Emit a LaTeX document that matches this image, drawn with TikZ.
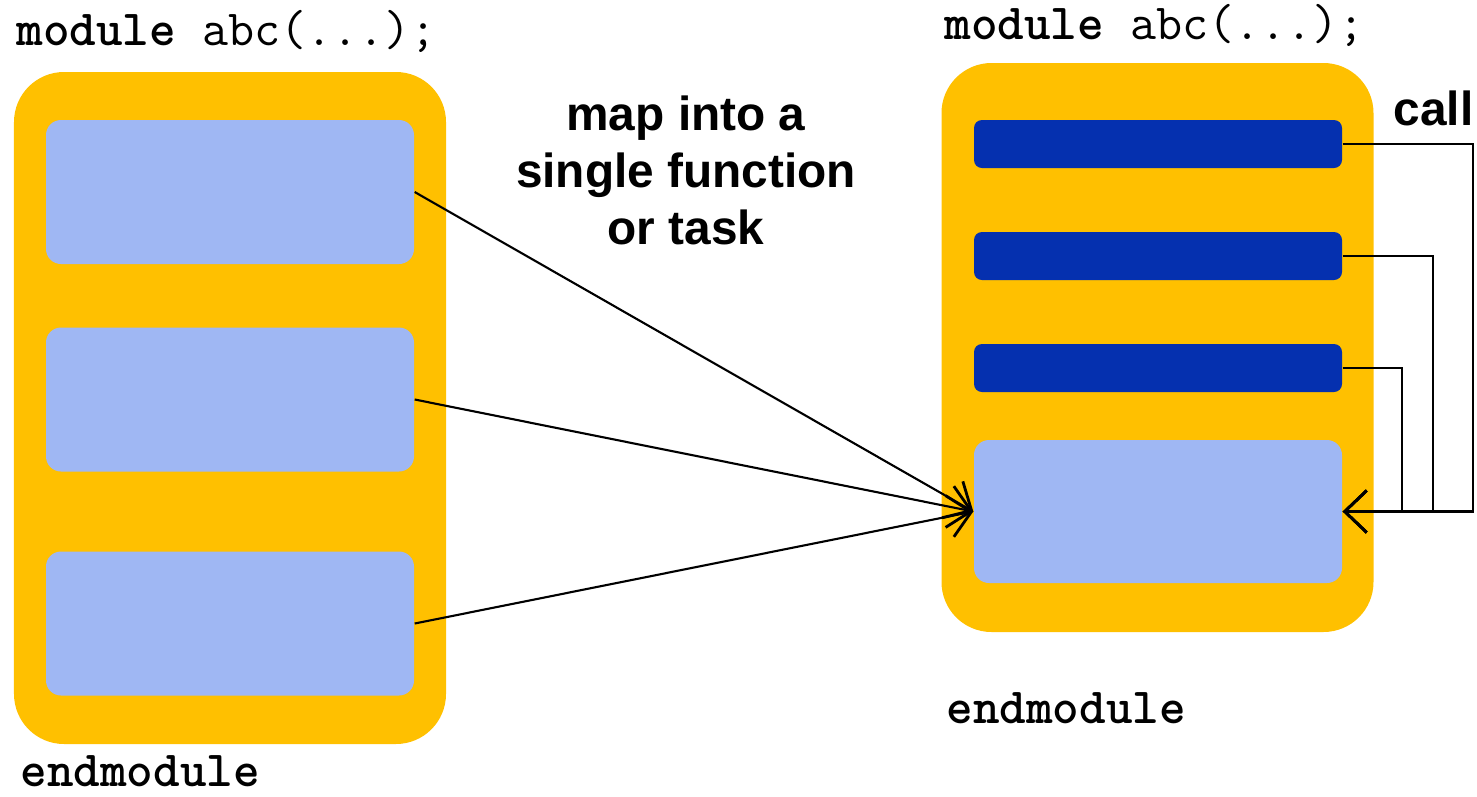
\documentclass[tikz,border=0pt]{standalone}
\usepackage{fontspec}
\setmainfont{Liberation Sans}
\usepackage{tikz}
\usetikzlibrary{arrows.meta}
\usepackage{xcolor}
\definecolor{modorange}{HTML}{FFC000}
\definecolor{blocklight}{HTML}{9FB7F3}
\definecolor{blockdark}{HTML}{0530AF}
\tikzset{
  modbox/.style={fill=modorange, rounded corners=0.5cm, minimum width=4.32cm, inner sep=0},
  blockbox/.style={fill=blocklight, rounded corners=0.15cm, minimum width=3.68cm, minimum height=1.44cm, inner sep=0},
  funcbar/.style={fill=blockdark, rounded corners=0.08cm, minimum width=3.68cm, minimum height=0.48cm, inner sep=0},
  codetext/.style={font=\fontsize{14.4}{17}\selectfont\ttfamily, inner sep=0, anchor=base west},
  maptext/.style={font=\fontsize{13.6}{16.2}\selectfont\bfseries, align=center, inner sep=0},
  mapline/.style={line width=0.6pt, -{Straight Barb[length=2.2mm, width=4.2mm, line width=0.8pt]}}
}

\begin{document}
\begin{tikzpicture}
\useasboundingbox (0,0) rectangle (14.77,-7.96);

% left module
\node [modbox, minimum height=6.72cm] (lmod) at (2.30,-4.08) {};
\node [blockbox] (a1) at (2.30,-1.92) {};
\node [blockbox] (a2) at (2.30,-3.995) {};
\node [blockbox] (a3) at (2.30,-6.235) {};
\node [codetext] (lhead) at (0.16,-0.45) {\textbf{module} abc(...);};
\node [codetext] (lfoot) at (0.20,-7.86) {\textbf{endmodule}};

% right module
\node [modbox, minimum height=5.69cm] (rmod) at (11.575,-3.475) {};
\node [funcbar] (f1) at (11.58,-1.44) {};
\node [funcbar] (f2) at (11.58,-2.56) {};
\node [funcbar] (f3) at (11.58,-3.68) {};
\node [blockbox, minimum height=1.43cm] (t) at (11.58,-5.115) {};
\node [codetext] (rhead) at (9.44,-0.39) {\textbf{module} abc(...);};
\node [codetext] (rfoot) at (9.46,-7.23) {\textbf{endmodule}};

\node [maptext] (map) at (6.86,-1.70) {map into a\\single function\\or task};
\node [maptext, anchor=base west] (call) at (13.93,-1.25) {call};

% mapping arrows
\draw [mapline] (a1.east |- 0,-1.92) -- (t.west);
\draw [mapline] (a2.east) -- (t.west);
\draw [mapline] (a3.east) -- (t.west);

% call lines
\draw [mapline] (f1.east) -- ([xshift=1.30cm]f1.east) |- (t.east);
\draw [mapline] (f2.east) -- ([xshift=0.90cm]f2.east) |- (t.east);
\draw [mapline] (f3.east) -- ([xshift=0.59cm]f3.east) |- (t.east);
\end{tikzpicture}
\end{document}
